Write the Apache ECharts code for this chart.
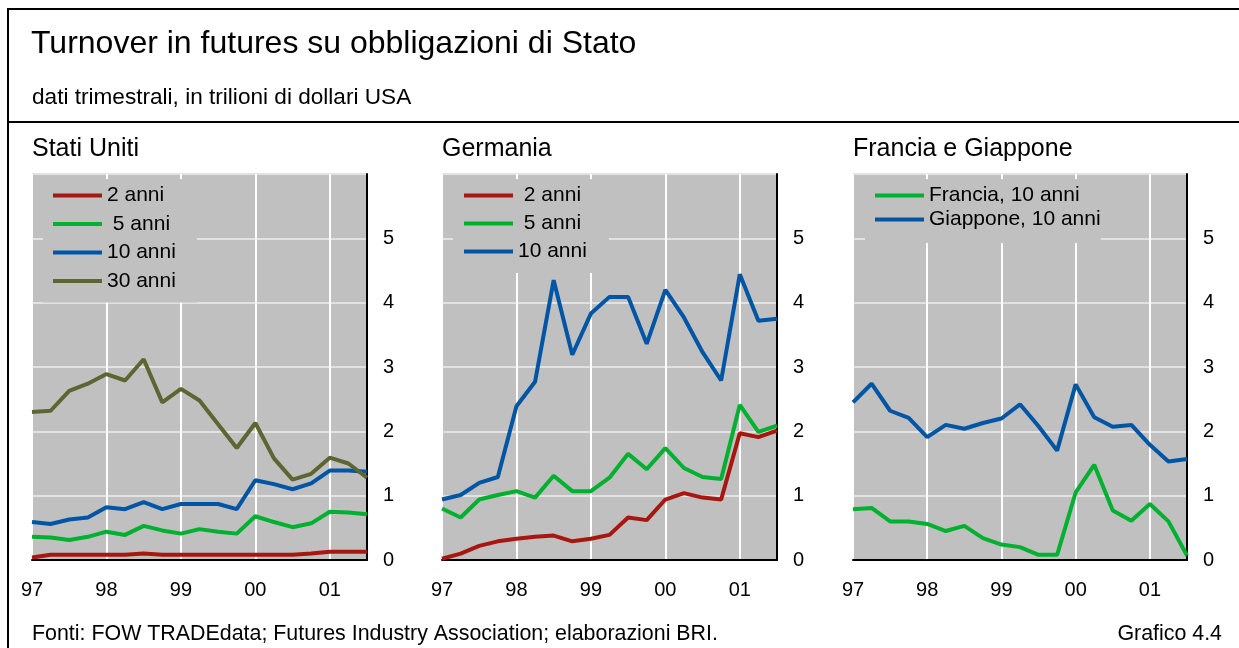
<!DOCTYPE html>
<html>
<head>
<meta charset="utf-8">
<script src="https://cdn.jsdelivr.net/npm/echarts@6/dist/echarts.min.js"></script>
<style>
  html, body { margin: 0; padding: 0; background: #fff; }
  #chart { width: 1239px; height: 648px; }
</style>
</head>
<body>
<div id="chart"></div>
<script>
// trimestri 1997 T1 - 2001 T3
var quarters = ['1997Q1','1997Q2','1997Q3','1997Q4','1998Q1','1998Q2','1998Q3','1998Q4',
  '1999Q1','1999Q2','1999Q3','1999Q4','2000Q1','2000Q2','2000Q3','2000Q4','2001Q1','2001Q2','2001Q3'];
var yTicks = [0, 1, 2, 3, 4, 5];

// Stati Uniti
var usa2  = [0.04,0.08,0.08,0.08,0.08,0.08,0.10,0.08,0.08,0.08,0.08,0.08,0.08,0.08,0.08,0.10,0.13,0.13,0.13];
var usa5  = [0.36,0.35,0.31,0.36,0.44,0.39,0.53,0.46,0.41,0.48,0.44,0.41,0.68,0.59,0.51,0.57,0.75,0.74,0.71];
var usa10 = [0.59,0.56,0.63,0.66,0.82,0.79,0.90,0.79,0.87,0.87,0.87,0.79,1.24,1.18,1.10,1.19,1.39,1.39,1.37];
var usa30 = [2.30,2.32,2.63,2.74,2.89,2.79,3.12,2.45,2.66,2.48,2.11,1.74,2.13,1.58,1.25,1.34,1.59,1.50,1.28];
// Germania
var ger2  = [0.02,0.10,0.22,0.29,0.33,0.36,0.38,0.29,0.33,0.39,0.66,0.62,0.94,1.04,0.97,0.94,1.97,1.91,2.01];
var ger5  = [0.80,0.66,0.94,1.01,1.07,0.97,1.31,1.07,1.07,1.28,1.65,1.41,1.74,1.43,1.29,1.26,2.41,1.99,2.09];
var ger10 = [0.94,1.01,1.20,1.29,2.39,2.77,4.35,3.19,3.83,4.09,4.09,3.36,4.20,3.77,3.23,2.79,4.44,3.72,3.75];
// Francia e Giappone
var fra10 = [0.79,0.81,0.60,0.60,0.56,0.45,0.53,0.34,0.24,0.20,0.08,0.08,1.05,1.48,0.77,0.61,0.87,0.60,0.07];
var jpn10 = [2.45,2.74,2.32,2.21,1.91,2.10,2.04,2.13,2.20,2.42,2.08,1.70,2.73,2.22,2.07,2.10,1.79,1.53,1.57];

var RED = '#a8170f', GREEN = '#00b12f', BLUE = '#0055a5', OLIVE = '#5d6633';
var FONT = '"Liberation Sans", Arial, sans-serif';

var panels = [
  { title: 'Stati Uniti', left: 32, width: 335, legendLeft: 43, legendGap: 7.5, legendPad: [6, 21, 11, 10], spaced: ['5 anni'],
    series: [['2 anni', usa2, RED], ['5 anni', usa5, GREEN], ['10 anni', usa10, BLUE], ['30 anni', usa30, OLIVE]] },
  { title: 'Germania', left: 442, width: 335, legendLeft: 453, legendGap: 7, legendPad: [6, 22, 11, 11], spaced: ['2 anni', '5 anni'],
    series: [['2 anni', ger2, RED], ['5 anni', ger5, GREEN], ['10 anni', ger10, BLUE]] },
  { title: 'Francia e Giappone', left: 853, width: 334, legendLeft: 865, legendGap: 3, legendPad: [6, 0, 13, 10], spaced: [],
    series: [['Francia, 10 anni', fra10, GREEN], ['Giappone, 10 anni', jpn10, BLUE]] }
];

var option = {
  animation: false,
  textStyle: { fontFamily: FONT, color: '#000' },
  title: [
    { text: 'Turnover in futures su obbligazioni di Stato', left: 31, top: 28, padding: 0,
      textStyle: { fontFamily: FONT, fontSize: 32, fontWeight: 'normal', color: '#000' } },
    { text: 'dati trimestrali, in trilioni di dollari USA', left: 32, top: 86, padding: 0,
      textStyle: { fontFamily: FONT, fontSize: 22.6, fontWeight: 'normal', color: '#000' } },
    { text: 'Fonti: FOW TRADEdata; Futures Industry Association; elaborazioni BRI.', left: 32, top: 624, padding: 0,
      textStyle: { fontFamily: FONT, fontSize: 21.4, fontWeight: 'normal', color: '#000' } },
    { text: 'Grafico 4.4', right: 17, top: 624, padding: 0,
      textStyle: { fontFamily: FONT, fontSize: 21.4, fontWeight: 'normal', color: '#000' } }
  ],
  grid: [], xAxis: [], yAxis: [], legend: [], series: [],
  graphic: [
    { type: 'line', shape: { x1: 8, y1: 9, x2: 1239, y2: 9 }, style: { stroke: '#000', lineWidth: 2 } },
    { type: 'line', shape: { x1: 8, y1: 122, x2: 1239, y2: 122 }, style: { stroke: '#000', lineWidth: 2 } },
    { type: 'line', shape: { x1: 8, y1: 8, x2: 8, y2: 648 }, style: { stroke: '#000', lineWidth: 2 } }
  ]
};

panels.forEach(function (p, k) {
  option.title.push({ text: p.title, left: p.left, top: 137, padding: 0,
    textStyle: { fontFamily: FONT, fontSize: 25, fontWeight: 'normal', color: '#000' } });
  option.grid.push({ left: p.left, top: 174, width: p.width, height: 386, show: true,
    backgroundColor: '#c0c0c0', borderColor: '#444', borderWidth: 1 });
  option.xAxis.push({
    type: 'category', gridIndex: k, data: quarters, boundaryGap: false,
    axisLine: { show: true, onZero: false, lineStyle: { color: '#000', width: 2 } },
    axisTick: { show: false },
    axisLabel: { interval: 3, margin: 20, fontSize: 20, color: '#000', fontFamily: FONT,
      formatter: function (v) { return v.slice(2, 4); } },
    splitLine: { show: true, interval: 3, lineStyle: { color: '#ffffff', width: 2 } }
  });
  option.yAxis.push({
    type: 'value', gridIndex: k, position: 'right', min: 0, max: 6, interval: 1,
    axisLine: { show: true, lineStyle: { color: '#000', width: 2 } },
    axisTick: { show: false },
    axisLabel: { margin: 16, fontSize: 20, color: '#000', fontFamily: FONT,
      formatter: function (v) { return yTicks.indexOf(v) >= 0 ? String(v) : ''; } },
    splitLine: { show: true, lineStyle: { color: '#e2e2e2', width: 2 } }
  });
  option.legend.push({
    orient: 'vertical', left: p.legendLeft, top: 179, padding: p.legendPad,
    itemGap: p.legendGap, itemWidth: 49, itemHeight: 4, icon: 'rect',
    backgroundColor: '#c0c0c0', selectedMode: false,
    data: p.series.map(function (s) { return s[0]; }),
    formatter: function (n) { return p.spaced.indexOf(n) >= 0 ? ' ' + n : n; },
    textStyle: { fontSize: 21, color: '#000', fontFamily: FONT }
  });
  p.series.forEach(function (s) {
    option.series.push({
      name: s[0], type: 'line', xAxisIndex: k, yAxisIndex: k, data: s[1],
      symbol: 'none', color: s[2], lineStyle: { color: s[2], width: 4 }, z: 3
    });
  });
});

var myChart = echarts.init(document.getElementById('chart'));
myChart.setOption(option);
</script>
</body>
</html>
